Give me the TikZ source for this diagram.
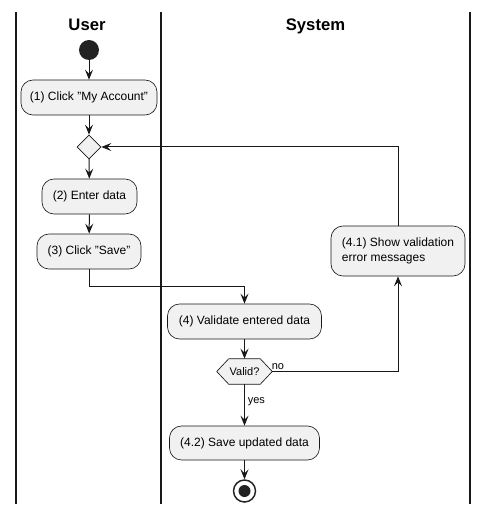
\documentclass[tikz,border=0pt]{standalone}
\usepackage{fontspec}
\setmainfont{Liberation Sans}[Ligatures=ResetAll]
\usetikzlibrary{arrows.meta,shapes.geometric}
\definecolor{boxfill}{HTML}{F1F1F1}
\definecolor{boxline}{HTML}{181818}
\definecolor{dark}{HTML}{222222}
\begin{document}
\begin{tikzpicture}[x=0.75pt,y=-0.75pt,
  act/.style={draw=boxline, fill=boxfill, rounded corners=9pt, line width=0.5pt,
    minimum height=26.25pt, inner sep=0pt, font=\fontsize{9}{11}\selectfont},
  arr/.style={-{Stealth[length=7.5pt,width=6pt,inset=3pt]}, line width=0.75pt, draw=boxline},
  lane/.style={line width=1.5pt, draw=boxline},
  title/.style={font=\fontsize{12.5}{15}\selectfont\bfseries, inner sep=0pt, anchor=base},
  lbl/.style={font=\fontsize{8.25}{10}\selectfont, inner sep=0pt},
  dec/.style={draw=boxline, fill=boxfill, line width=0.5pt}]
\useasboundingbox (0,0) rectangle (487,513);
% swimlanes
\coordinate (l1t) at (16,12);   \coordinate (l1b) at (16,504);
\coordinate (l2t) at (161,12);  \coordinate (l2b) at (161,504);
\coordinate (l3t) at (470,12);  \coordinate (l3b) at (470,504);
\draw[lane] (l1t) -- (l1b);
\draw[lane] (l2t) -- (l2b);
\draw[lane] (l3t) -- (l3b);
\node[title] (tu) at (87,31) {User};
\node[title] (ts) at (315.5,31) {System};
% start
\node[circle, fill=dark, minimum size=15pt, inner sep=0pt] (start) at (89,50) {};
% user actions
\node[act, minimum width=102pt] (b1) at (89,97.5) {(1) Click "My Account"};
\node[diamond, dec, aspect=1, minimum width=18pt, minimum height=18pt, inner sep=0pt] (d1) at (89,147) {};
\node[act, minimum width=71.25pt] (b2) at (89.5,196.5) {(2) Enter data};
\node[act, minimum width=78pt] (b3) at (89,251.5) {(3) Click "Save"};
% system actions
\node[act, minimum width=115.5pt] (b4) at (244.5,321.5) {(4) Validate entered data};
\node[minimum width=41.25pt, minimum height=18.75pt, inner sep=0pt] (v) at (244.5,371.5) {};
\filldraw[dec] (v.west) -- ([xshift=9pt]v.north west) -- ([xshift=-9pt]v.north east)
  -- (v.east) -- ([xshift=-9pt]v.south east) -- ([xshift=9pt]v.south west) -- cycle;
\node[font=\fontsize{8.25}{10}\selectfont, inner sep=0pt] (vt) at (v) {Valid?};
\node[act, minimum width=100.5pt, minimum height=37.5pt, align=left,
  font=\fontsize{9}{10.8}\selectfont] (b41) at (398,251) {(4.1) Show validation\\error messages};
\node[act, minimum width=112.5pt, minimum height=25.5pt] (b42) at (244.5,443) {(4.2) Save updated data};
% end
\node[circle, draw=dark, line width=1.1pt, fill=white, minimum size=16.5pt, inner sep=0pt] (stop) at (244.5,491) {};
\node[circle, fill=dark, minimum size=9pt, inner sep=0pt] (stopin) at (stop) {};
% connectors
\coordinate (j1) at (244.5,286);
\draw[arr] (start) -- (b1);
\draw[arr] (b1) -- (d1);
\draw[arr] (d1) -- (b2);
\draw[arr] (b2) -- (b3);
\draw[arr] (b3.south) |- (j1) -- (b4.north);
\draw[arr] (b4) -- (v.north);
\draw[arr] (v.east) -| (b41.south);
\draw[arr] (b41.north) |- (d1.east);
\draw[arr] (v.south) -- (b42.north);
\draw[arr] (b42) -- (stop);
% labels
\node[lbl, anchor=south west] (lno) at ([xshift=-0.5pt,yshift=1.5pt]v.east) {no};
\node[lbl, anchor=west] (lyes) at (247.5,402) {yes};
\end{tikzpicture}
\end{document}
